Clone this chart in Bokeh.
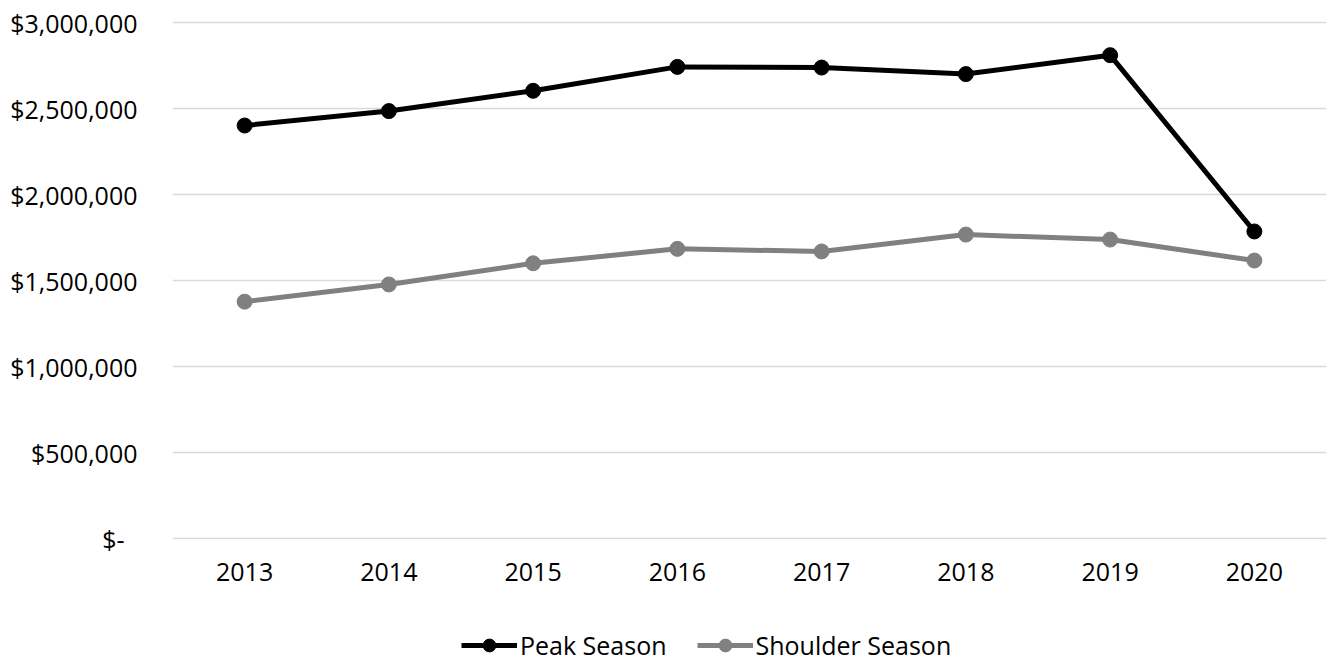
from bokeh.plotting import figure
from bokeh.layouts import column
from bokeh.models import FactorRange, Range1d, FixedTicker, CustomJSTickFormatter, Legend, LegendItem
from bokeh.embed import file_html
from bokeh.resources import INLINE

years = ["2013", "2014", "2015", "2016", "2017", "2018", "2019", "2020"]
peak = [2401000, 2485000, 2603000, 2742000, 2738000, 2700000, 2810000, 1785000]
shoulder = [1377000, 1477000, 1600000, 1684000, 1669000, 1767000, 1738000, 1616000]
y_ticks = [0, 500000, 1000000, 1500000, 2000000, 2500000, 3000000]
series_names = ["Peak Season", "Shoulder Season"]

FONT = "Open Sans"
FS = "25px"
PEAK_C = "#000000"
SHOULDER_C = "#808080"

p = figure(width=1330, height=590, x_range=FactorRange(*years, range_padding=0),
           y_range=Range1d(-5814, 3005814), output_backend="svg", toolbar_location=None,
           min_border_left=172, min_border_right=4, min_border_top=21, min_border_bottom=51)
p.outline_line_color = None
p.background_fill_color = "white"
p.border_fill_color = "white"

p.xgrid.grid_line_color = None
p.ygrid.grid_line_color = "#d9d9d9"
p.ygrid.grid_line_width = 1.6

p.yaxis.ticker = FixedTicker(ticks=y_ticks)
p.yaxis.formatter = CustomJSTickFormatter(code="""
    return tick == 0 ? '$-\u00a0\u00a0' : '$' + tick.toLocaleString('en-US');
""")
for ax in (p.xaxis, p.yaxis):
    ax.axis_line_color = None
    ax.major_tick_line_color = None
    ax.minor_tick_line_color = None
    ax.major_tick_in = 0
    ax.major_tick_out = 0
    ax.minor_tick_in = 0
    ax.minor_tick_out = 0
    ax.major_label_text_font = FONT
    ax.major_label_text_font_size = FS
    ax.major_label_text_color = "#000000"
p.yaxis.major_label_standoff = 35
p.xaxis.major_label_standoff = 23

p.line(years, peak, line_color=PEAK_C, line_width=5)
p.scatter(years, peak, size=15, fill_color=PEAK_C, line_color=PEAK_C)
p.line(years, shoulder, line_color=SHOULDER_C, line_width=5)
p.scatter(years, shoulder, size=15, fill_color=SHOULDER_C, line_color=SHOULDER_C)

# legend strip below the chart (proxy renderers lie outside the strip's visible range)
lf = figure(width=1330, height=72, x_range=Range1d(0, 1), y_range=Range1d(0, 1),
            output_backend="svg", toolbar_location=None,
            min_border_left=0, min_border_right=0, min_border_top=0, min_border_bottom=0)
lf.axis.visible = False
lf.grid.visible = False
lf.outline_line_color = None
lf.border_fill_color = "white"
items = []
for name, col in zip(series_names, [PEAK_C, SHOULDER_C]):
    lr = lf.line(x=[-10, -9], y=[-10, -10], line_color=col, line_width=5)
    sr = lf.scatter(x=[-10], y=[-10], size=13, fill_color=col, line_color=col)
    items.append(LegendItem(label=name, renderers=[lr, sr]))
legend = Legend(items=items, orientation="horizontal", location=(289, 0),
                label_text_font=FONT, label_text_font_size=FS, label_text_color="black",
                glyph_width=56, glyph_height=32, label_standoff=3, spacing=30,
                border_line_color=None, background_fill_alpha=0, padding=0, margin=0)
lf.add_layout(legend, "center")

open("out.html", "w").write(file_html(column(p, lf, spacing=0), INLINE))
